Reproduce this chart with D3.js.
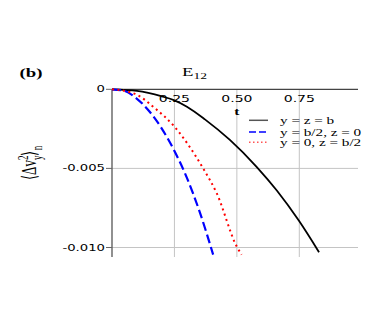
<!DOCTYPE html>
<html>
<head>
<meta charset="utf-8">
<script src="https://cdn.jsdelivr.net/npm/d3@7"></script>
<style>
  body { margin: 0; background: #fff; }
  svg { display: block; }
</style>
</head>
<body>
<svg width="387" height="322"></svg>
<script>
// values
var tBlack = [0, 0.1, 0.2, 0.25, 0.3, 0.372, 0.472, 0.579, 0.66, 0.748, 0.829];
var vBlack = [0, -0.0001, -0.00045, -0.0007, -0.0011, -0.0019, -0.0032, -0.0049, -0.0064, -0.0083, -0.0103];

var tBlue = [0, 0.05, 0.1, 0.15, 0.2, 0.25, 0.3, 0.35, 0.405];
var vBlue = [0, -0.0001, -0.0006, -0.0014, -0.0025, -0.0039, -0.0056, -0.0077, -0.01045];

var tRed = [0, 0.05, 0.1, 0.172, 0.25, 0.305, 0.365, 0.419, 0.499, 0.519];
var vRed = [0, -0.0001, -0.00035, -0.0012, -0.00236, -0.0035, -0.005, -0.00656, -0.00992, -0.01045];

var xTicks = [0.25, 0.5, 0.75];
var xTickLabels = ["0.25", "0.50", "0.75"];
var yTicks = [0, -0.005, -0.010];
var yTickLabels = ["0", "-0.005", "-0.010"];
var legendLabels = ["y = z = b", "y = b/2, z = 0", "y = 0, z = b/2"];

var svg = d3.select("svg");

var x = d3.scaleLinear().domain([0, 0.985]).range([112, 358]);
var y = d3.scaleLinear().domain([-0.0106, 0]).range([257, 89.3]);

var sx = 1.65; // the original figure is stretched sideways

function stext(px, py, str, anchor, size, family, scale) {
  return svg.append("text")
      .attr("transform", "translate(" + px + "," + py + ") scale(" + (scale || sx) + ",1)")
      .attr("text-anchor", anchor)
      .style("font-family", family)
      .style("font-size", size + "px")
      .text(str);
}

// grid
svg.selectAll(".vgrid")
  .data(xTicks)
  .enter().append("line")
    .attr("x1", function(d) { return x(d); })
    .attr("x2", function(d) { return x(d); })
    .attr("y1", y(0))
    .attr("y2", y.range()[0])
    .attr("stroke", "#c4c4c4")
    .attr("stroke-width", 1);

svg.selectAll(".hgrid")
  .data(yTicks.slice(1))
  .enter().append("line")
    .attr("x1", x(0))
    .attr("x2", x.range()[1])
    .attr("y1", function(d) { return y(d); })
    .attr("y2", function(d) { return y(d); })
    .attr("stroke", "#c4c4c4")
    .attr("stroke-width", 1);

// axes lines
svg.append("line")
    .attr("x1", x(0)).attr("x2", x.range()[1])
    .attr("y1", y(0)).attr("y2", y(0))
    .attr("stroke", "#444").attr("stroke-width", 1.2);
svg.append("line")
    .attr("x1", x(0)).attr("x2", x(0))
    .attr("y1", y(0)).attr("y2", y.range()[0])
    .attr("stroke", "#555").attr("stroke-width", 1.3);

// y ticks
yTicks.forEach(function(d, i) {
  svg.append("line")
      .attr("x1", x(0) - 6).attr("x2", x(0))
      .attr("y1", y(d)).attr("y2", y(d))
      .attr("stroke", "#666").attr("stroke-width", 1);
  stext(x(0) - 7, y(d) + 3, yTickLabels[i], "end", 8, "DejaVu Sans");
});

// x tick labels
xTicks.forEach(function(d, i) {
  stext(x(d), y(0) + 12.5, xTickLabels[i], "middle", 8.5, "DejaVu Sans");
});

stext(x(0.5), 115, "t", "middle", 11, "Liberation Serif", 1.4).style("font-weight", "bold");

// title and panel tag
stext(31, 77, "(b)", "middle", 13, "Liberation Serif", 1.45).style("font-weight", "bold");
var title = svg.append("text")
    .attr("transform", "translate(182,76) scale(1.5,1)")
    .style("font-family", "Liberation Serif")
    .style("font-size", "12.5px");
title.append("tspan").text("E");
title.append("tspan").attr("dy", 3).style("font-size", "9px").text("12");

// y axis label
var ylab = svg.append("text")
    .attr("transform", "translate(36,163) rotate(-90) scale(1,1.55)")
    .attr("text-anchor", "middle")
    .style("font-family", "Liberation Serif")
    .style("font-size", "13px");
ylab.append("tspan").text("\u27E8\u0394v");
ylab.append("tspan").attr("dy", -5).style("font-size", "9px").text("2");
ylab.append("tspan").attr("dx", -4.5).attr("dy", 9).style("font-size", "9px").text("y");
ylab.append("tspan").attr("dy", -4).text("\u27E9");
ylab.append("tspan").attr("dy", 4).style("font-size", "9px").text("n");

// curves
var line = d3.line()
    .x(function(d) { return x(d[0]); })
    .y(function(d) { return y(d[1]); })
    .curve(d3.curveMonotoneX);

var series = [
  {t: tBlack, v: vBlack, color: "#000", width: 1.8, dash: null},
  {t: tBlue, v: vBlue, color: "#0000ff", width: 2.2, dash: "9,4"},
  {t: tRed, v: vRed, color: "#ff0000", width: 2, dash: "2,3.5"}
];

series.forEach(function(s) {
  svg.append("path")
      .datum(d3.zip(s.t, s.v))
      .attr("d", line)
      .attr("fill", "none")
      .attr("stroke", s.color)
      .attr("stroke-width", s.width)
      .attr("stroke-dasharray", s.dash);
});

// legend
var legColors = ["#555", "#0000ff", "#ff5555"];
var legDash = [null, "7,3", "1.5,2.5"];
var legY = [120.3, 132, 142.3];
legendLabels.forEach(function(lab, i) {
  svg.append("line")
      .attr("x1", 249).attr("x2", 268)
      .attr("y1", legY[i]).attr("y2", legY[i])
      .attr("stroke", legColors[i])
      .attr("stroke-width", 1.5)
      .attr("stroke-dasharray", legDash[i]);
  stext(280, legY[i] + 3.5, lab, "start", 9.5, "Liberation Serif", 1.6);
});
</script>
</body>
</html>
